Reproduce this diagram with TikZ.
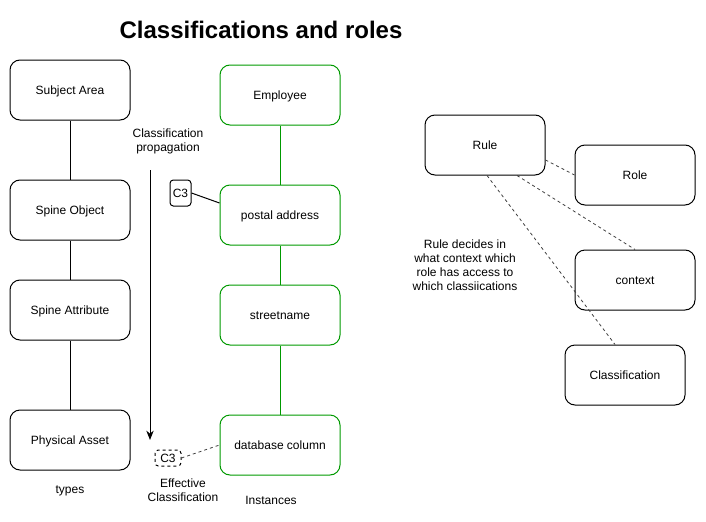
\documentclass[tikz,border=0pt]{standalone}
\usepackage{fontspec}
\setmainfont{Liberation Sans}
\usetikzlibrary{arrows.meta}
\definecolor{grn}{HTML}{009900}
\tikzset{
  box/.style={draw=black, line width=0.75pt, rounded corners=7.5pt, minimum width=90pt, minimum height=45pt, font=\fontsize{9}{11}\selectfont, inner sep=0pt, text height=6.6pt, text depth=0pt},
  gbox/.style={box, draw=grn},
  lbl/.style={font=\fontsize{9}{10.5}\selectfont, align=center, inner sep=0pt},
  tag/.style={draw=black, line width=0.75pt, rounded corners=2.5pt, font=\fontsize{9}{11}\selectfont, inner sep=0pt, text height=6.6pt, text depth=0pt},
  link/.style={line width=0.75pt, black},
  glink/.style={line width=0.75pt, grn},
  dlink/.style={line width=0.6pt, black!75, dash pattern=on 2.25pt off 2.25pt}
}
\begin{document}
\begin{tikzpicture}[x=0.75pt, y=-0.75pt]
\useasboundingbox (0,0) rectangle (706,521);
\node[font=\fontsize{18}{20}\selectfont\bfseries] (title) at (261,30) {Classifications and roles};
% left column
\node[box] (sa) at (70,90) {Subject Area};
\node[box] (so) at (70,210) {Spine Object};
\node[box] (sat) at (70,310) {Spine Attribute};
\node[box] (pa) at (70,440) {Physical Asset};
\node[lbl] (types) at (70,491) {types};
\draw[link] (sa) -- (so);
\draw[link] (so) -- (sat);
\draw[link] (sat) -- (pa);
% propagation
\node[lbl] (prop) at (168,141) {Classification\\propagation};
\coordinate (ptop) at (150,170);
\coordinate (pbot) at (150,440);
\draw[link, -{Stealth[length=7pt,width=5.5pt]}] (ptop) -- (pbot);
\node[tag, minimum width=15.75pt, minimum height=19.5pt] (c3a) at (180.5,193) {C3};
\node[tag, dash pattern=on 2.25pt off 2.25pt, minimum width=19.5pt, minimum height=12pt] (c3b) at (168,458) {C3};
\node[lbl] (eff) at (183,490.5) {Effective\\Classification};
% instances column
\node[gbox] (emp) at (280,95) {Employee};
\node[gbox] (post) at (280,215) {postal address};
\node[gbox] (street) at (280,315) {streetname};
\node[gbox] (db) at (280,445) {database column};
\node[lbl] (inst) at (271,500) {Instances};
\draw[glink] (emp) -- (post);
\draw[glink] (post) -- (street);
\draw[glink] (street) -- (db);
\draw[link] (c3a.east) -- ([yshift=9pt]post.west);
\draw[dlink] (c3b.east) -- (db.west);
% right side
\node[box] (rule) at (485,145) {Rule};
\node[box] (role) at (635,175) {Role};
\node[box] (ctx) at (635,280) {context};
\node[box] (cls) at (625,375) {Classification};
\node[lbl] (note) at (465,265) {Rule decides in\\what context which\\role has access to\\which classiications};
\draw[dlink] ([yshift=-11.25pt]rule.east) -- (role.west);
\draw[dlink] ([xshift=24pt]rule.south) -- (ctx.north);
\draw[dlink] ([xshift=1.5pt]rule.south) -- ([xshift=-7.5pt]cls.north);
\end{tikzpicture}
\end{document}
